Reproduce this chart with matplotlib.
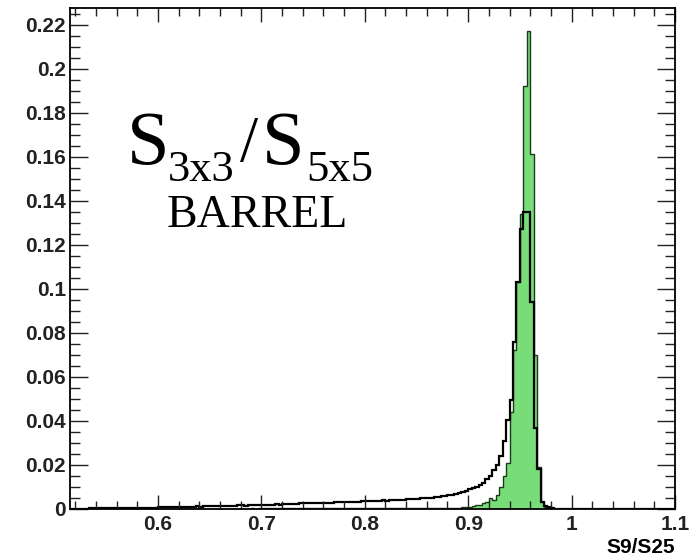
import numpy as np
import matplotlib
matplotlib.use("Agg")
import matplotlib.pyplot as plt

# bin edges: 180 bins from 0.5 to 1.1 (width 1/300)
edges = np.linspace(0.5, 1.1, 181)

# all candidates (black outline), 10 bins per row
all_vals = [
    0, 0, 0, 0, 0.0002, 0.0002, 0.0002, 0.0002, 0.0002, 0.0002,                        # 0.500-0.533
    0.0003, 0.0004, 0.0003, 0.0004, 0.0004, 0.0003, 0.0004, 0.0004, 0.0005, 0.0004,     # 0.533-0.567
    0.0004, 0.0005, 0.0004, 0.0005, 0.0005, 0.0004, 0.0005, 0.0005, 0.0006, 0.0005,     # 0.567-0.600
    0.0010, 0.0008, 0.0009, 0.0010, 0.0009, 0.0010, 0.0011, 0.0010, 0.0010, 0.0011,     # 0.600-0.633
    0.0011, 0.0012, 0.0011, 0.0013, 0.0012, 0.0014, 0.0013, 0.0013, 0.0014, 0.0013,     # 0.633-0.667
    0.0014, 0.0015, 0.0014, 0.0016, 0.0017, 0.0015, 0.0016, 0.0018, 0.0017, 0.0018,     # 0.667-0.700
    0.0019, 0.0018, 0.0020, 0.0019, 0.0021, 0.0020, 0.0022, 0.0021, 0.0022, 0.0023,     # 0.700-0.733
    0.0024, 0.0025, 0.0026, 0.0025, 0.0027, 0.0026, 0.0028, 0.0027, 0.0029, 0.0028,     # 0.733-0.767
    0.0029, 0.0030, 0.0031, 0.0030, 0.0032, 0.0031, 0.0033, 0.0032, 0.0034, 0.0035,     # 0.767-0.800
    0.0035, 0.0036, 0.0037, 0.0036, 0.0038, 0.0039, 0.0038, 0.0040, 0.0041, 0.0040,     # 0.800-0.833
    0.0042, 0.0043, 0.0044, 0.0045, 0.0046, 0.0047, 0.0048, 0.0049, 0.0050, 0.0052,     # 0.833-0.867
    0.0053, 0.0055, 0.0057, 0.0060, 0.0062, 0.0065, 0.0068, 0.0072, 0.0076, 0.0080,     # 0.867-0.900
    0.0090, 0.0095, 0.0100, 0.0110, 0.0120, 0.0135, 0.0150, 0.0175, 0.0200, 0.0240,     # 0.900-0.933
    0.031, 0.0405, 0.0496, 0.076, 0.103, 0.127, 0.135, 0.135, 0.094, 0.037,             # 0.933-0.967
    0.018, 0.003, 0.0013, 0.0008, 0.0004, 0.0002, 0.0001, 0, 0, 0,                      # 0.967-1.000
    0, 0, 0, 0, 0, 0, 0, 0, 0, 0,
    0, 0, 0, 0, 0, 0, 0, 0, 0, 0,
    0, 0, 0, 0, 0, 0, 0, 0, 0, 0,
]

# selected / signal (green filled)
sel_vals = [
    0, 0, 0, 0, 0, 0, 0, 0, 0, 0,
    0, 0, 0, 0, 0, 0, 0, 0, 0, 0,
    0, 0, 0, 0, 0, 0, 0, 0, 0, 0.0001,
    0.0001, 0.0001, 0.0001, 0.0001, 0.0001, 0.0001, 0.0001, 0.0001, 0.0001, 0.0001,
    0.0001, 0.0001, 0.0001, 0.0001, 0.0002, 0.0001, 0.0002, 0.0002, 0.0002, 0.0002,
    0.0002, 0.0002, 0.0002, 0.0002, 0.0002, 0.0002, 0.0002, 0.0003, 0.0002, 0.0003,
    0.0003, 0.0003, 0.0003, 0.0003, 0.0003, 0.0003, 0.0003, 0.0003, 0.0003, 0.0003,
    0.0003, 0.0003, 0.0003, 0.0003, 0.0003, 0.0003, 0.0003, 0.0003, 0.0003, 0.0003,
    0.0003, 0.0003, 0.0003, 0.0003, 0.0003, 0.0003, 0.0003, 0.0003, 0.0003, 0.0003,
    0.0003, 0.0003, 0.0003, 0.0003, 0.0003, 0.0003, 0.0003, 0.0003, 0.0003, 0.0003,
    0.0003, 0.0003, 0.0003, 0.0003, 0.0003, 0.0003, 0.0003, 0.0003, 0.0003, 0.0003,
    0.0003, 0.0003, 0.0003, 0.0004, 0.0004, 0.0005, 0.0005, 0.0006, 0.0007, 0.0008,
    0.0010, 0.0013, 0.0016, 0.0020, 0.0026, 0.0033, 0.0048, 0.0042, 0.0065, 0.0100,
    0.015, 0.021, 0.044, 0.072, 0.103, 0.134, 0.192, 0.217, 0.161, 0.070,
    0.019, 0.003, 0.001, 0.0004, 0.0002, 0, 0, 0, 0, 0,
    0, 0, 0, 0, 0, 0, 0, 0, 0, 0,
    0, 0, 0, 0, 0, 0, 0, 0, 0, 0,
    0, 0, 0, 0, 0, 0, 0, 0, 0, 0,
]

xticks = [0.6, 0.7, 0.8, 0.9, 1.0, 1.1]
yticks = [0, 0.02, 0.04, 0.06, 0.08, 0.1, 0.12, 0.14, 0.16, 0.18, 0.2, 0.22]

W, H = 693, 559
fig = plt.figure(figsize=(W / 100, H / 100), dpi=100)
ax = fig.add_axes([70 / W, 1 - 509 / H, 605 / W, 501 / H])

ax.stairs(sel_vals, edges, fill=True, facecolor="#78dc78", edgecolor="#1a3a1a", lw=1.0)
ax.stairs(all_vals, edges, color="black", lw=1.6)

ax.set_xlim(0.515, 1.1)
ax.set_ylim(0, 0.2275)

ax.set_xticks(xticks)
ax.set_yticks(yticks)
ax.set_xticklabels([f"{v:g}" for v in xticks])
ax.set_yticklabels([f"{v:g}" for v in yticks])
ax.set_xticks(np.arange(0.52, 1.1, 0.02), minor=True)
ax.set_yticks(np.arange(0, 0.226, 0.005), minor=True)

lab = dict(family="Liberation Sans", weight="bold", size=15)
for t in ax.get_xticklabels() + ax.get_yticklabels():
    t.set_fontproperties(matplotlib.font_manager.FontProperties(**lab))

ax.tick_params(axis="both", which="both", direction="in", top=True, right=True,
               colors="#222222", width=1.0)
ax.tick_params(axis="x", which="major", length=10, pad=4)
ax.tick_params(axis="x", which="minor", length=5.5)
ax.tick_params(axis="y", which="major", length=13, pad=3)
ax.tick_params(axis="y", which="minor", length=7)
for s in ax.spines.values():
    s.set_linewidth(1.3)

ax.set_xlabel("S9/S25", loc="right", labelpad=3, **lab)

# title text built from pieces (big S, small subscripts)
serif = "Liberation Serif"
def ptext(x, y, s, size):
    fig.text(x / W, 1 - y / H, s, family=serif, size=size, ha="left", va="baseline")

ptext(127, 164, "S", 55)
ptext(168, 181, "3x3", 32)
ptext(240, 161, "/", 47)
ptext(262, 164, "S", 55)
ptext(306, 181, "5x5", 32)
ptext(167, 227, "BARREL", 33)

fig.savefig("out.png", dpi=100)
